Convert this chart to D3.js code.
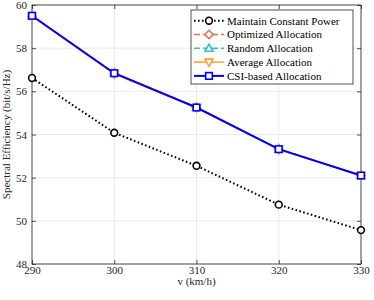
<!DOCTYPE html>
<html>
<head>
<meta charset="utf-8">
<script src="https://cdn.jsdelivr.net/npm/d3@7"></script>
<style>
  body { margin: 0; background: #fff; }
  svg text { font-family: "Liberation Serif", "Times New Roman", Times, "DejaVu Serif", serif !important; }
</style>
</head>
<body>
<div id="chart"></div>
<script>
// data
var speeds = [290, 300, 310, 320, 330];
var constantPower = [56.62, 54.08, 52.55, 50.75, 49.57];
var optimized = [59.48, 56.82, 55.25, 53.32, 52.10];
var randomAlloc = [59.50, 56.85, 55.26, 53.33, 52.10];
var averageAlloc = [59.47, 56.80, 55.24, 53.31, 52.09];
var csiBased = [59.50, 56.84, 55.25, 53.32, 52.10];
var xTicks = [290, 300, 310, 320, 330];
var yTicks = [48, 50, 52, 54, 56, 58, 60];

var series = [
    { name: "Maintain Constant Power", values: constantPower, color: "#000000", dash: "1.6,2.4", marker: "circle", width: 2 },
    { name: "Optimized Allocation", values: optimized, color: "#f26b4f", dash: "6,3", marker: "diamond", width: 1.5 },
    { name: "Random Allocation", values: randomAlloc, color: "#2ec4c4", dash: "6,3", marker: "triangle", width: 1.5 },
    { name: "Average Allocation", values: averageAlloc, color: "#ffa030", dash: null, marker: "triangleDown", width: 1.5 },
    { name: "CSI-based Allocation", values: csiBased, color: "#0000ff", dash: null, marker: "square", width: 2 }
];

var W = 374, H = 300;
var margin = { top: 5, right: 13, bottom: 36, left: 32 },
    width = W - margin.left - margin.right,
    height = H - margin.top - margin.bottom;

var serif = "'Liberation Serif', 'Times New Roman', Times, serif";

var svg = d3.select("#chart")
    .append("svg")
    .attr("width", W)
    .attr("height", H)
    .attr("font-family", serif);

var g = svg.append("g")
    .attr("transform", "translate(" + margin.left + "," + margin.top + ")");

var x = d3.scaleLinear().domain([290, 330]).range([0, width]);
var y = d3.scaleLinear().domain([48, 60]).range([height, 0]);

// grid
g.append("g").selectAll("line.gx")
    .data(xTicks).enter().append("line")
    .attr("x1", function (d) { return x(d); })
    .attr("x2", function (d) { return x(d); })
    .attr("y1", 0).attr("y2", height)
    .attr("stroke", "#e6e6e6").attr("stroke-width", 0.8);
g.append("g").selectAll("line.gy")
    .data(yTicks).enter().append("line")
    .attr("x1", 0).attr("x2", width)
    .attr("y1", function (d) { return y(d); })
    .attr("y2", function (d) { return y(d); })
    .attr("stroke", "#e6e6e6").attr("stroke-width", 0.8);

// axes (ticks inside, like matlab)
function styleAxis(sel) {
    sel.attr("font-family", serif).attr("font-size", 11);
    sel.select(".domain").remove();
    sel.selectAll(".tick line").attr("stroke", "#262626").attr("stroke-width", 0.8);
    sel.selectAll(".tick text").attr("fill", "#262626");
}
g.append("g")
    .attr("transform", "translate(0," + height + ")")
    .call(d3.axisBottom(x).tickValues(xTicks).tickSize(-4).tickPadding(2))
    .call(styleAxis);
g.append("g")
    .call(d3.axisLeft(y).tickValues(yTicks).tickSize(-4).tickPadding(5))
    .call(styleAxis);
g.append("g")
    .attr("transform", "translate(" + width + ",0)")
    .call(d3.axisRight(y).tickValues(yTicks).tickSize(-4).tickFormat(""))
    .call(styleAxis);
g.append("g")
    .call(d3.axisTop(x).tickValues(xTicks).tickSize(-4).tickFormat(""))
    .call(styleAxis);

g.append("rect")
    .attr("width", width).attr("height", height)
    .attr("fill", "none").attr("stroke", "#262626").attr("stroke-width", 0.8);

// axis titles
svg.append("text")
    .attr("x", margin.left + width / 2).attr("y", 285)
    .attr("text-anchor", "middle").attr("font-size", "11px").attr("fill", "#262626")
    .text("v (km/h)");
svg.append("text")
    .attr("transform", "translate(10," + (margin.top + height / 2) + ") rotate(-90)")
    .attr("text-anchor", "middle").attr("font-size", "11px").attr("fill", "#262626")
    .text("Spectral Efficiency (bit/s/Hz)");

// markers
function drawMarker(sel, type, color, cx, cy) {
    var m;
    if (type === "circle") {
        m = sel.append("circle").attr("cx", cx).attr("cy", cy).attr("r", 3.4);
    } else if (type === "square") {
        m = sel.append("rect").attr("x", cx - 3.3).attr("y", cy - 3.3).attr("width", 6.6).attr("height", 6.6);
    } else if (type === "diamond") {
        m = sel.append("path").attr("d", "M" + cx + "," + (cy - 4.2) + "L" + (cx + 4.2) + "," + cy + "L" + cx + "," + (cy + 4.2) + "L" + (cx - 4.2) + "," + cy + "Z");
    } else if (type === "triangle") {
        m = sel.append("path").attr("d", "M" + cx + "," + (cy - 4.2) + "L" + (cx + 4) + "," + (cy + 3) + "L" + (cx - 4) + "," + (cy + 3) + "Z");
    } else {
        m = sel.append("path").attr("d", "M" + cx + "," + (cy + 4.2) + "L" + (cx + 4) + "," + (cy - 3) + "L" + (cx - 4) + "," + (cy - 3) + "Z");
    }
    m.attr("fill", "#fff").attr("stroke", color).attr("stroke-width", 1.6);
}

var line = d3.line()
    .x(function (d, i) { return x(speeds[i]); })
    .y(function (d) { return y(d); });

// draw hidden-ish series first, black and CSI on top
var order = [1, 2, 3, 0, 4];
order.forEach(function (k) {
    var s = series[k];
    var sg = g.append("g");
    sg.append("path")
        .attr("d", line(s.values))
        .attr("fill", "none")
        .attr("stroke", s.color)
        .attr("stroke-width", s.width)
        .attr("stroke-dasharray", s.dash);
    s.values.forEach(function (v, i) {
        drawMarker(sg, s.marker, s.color, x(speeds[i]), y(v));
    });
});

// legend
var lx = 191, ly = 10, lw = 162, lh = 74;
var legend = svg.append("g");
legend.append("rect")
    .attr("x", lx).attr("y", ly).attr("width", lw).attr("height", lh)
    .attr("fill", "#fff").attr("stroke", "#262626").attr("stroke-width", 0.8);
series.forEach(function (s, i) {
    var yy = 20.7 + i * 13.8;
    legend.append("line")
        .attr("x1", 194).attr("x2", 224).attr("y1", yy).attr("y2", yy)
        .attr("stroke", s.color).attr("stroke-width", s.width)
        .attr("stroke-dasharray", s.dash);
    drawMarker(legend, s.marker, s.color, 209, yy);
    legend.append("text")
        .attr("x", 227).attr("y", yy + 3.8)
        .attr("font-size", "11px").attr("fill", "#000")
        .text(s.name);
});
</script>
</body>
</html>
